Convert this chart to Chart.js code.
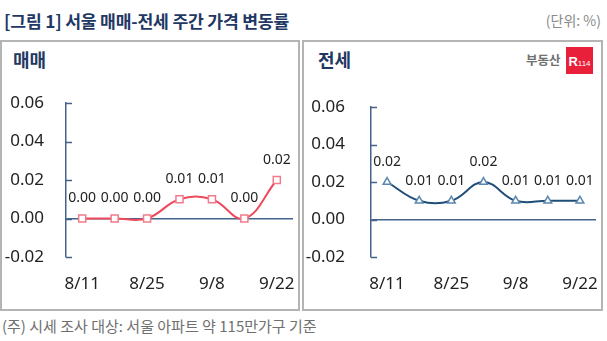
<!DOCTYPE html>
<html>
<head>
<meta charset="utf-8">
<script src="https://cdn.jsdelivr.net/npm/chart.js@4/dist/chart.umd.min.js"></script>
<style>
  html, body { margin: 0; padding: 0; background: #fff; }
  body { width: 607px; height: 341px; position: relative; overflow: hidden; font-family: 'Noto Sans CJK KR', 'Noto Sans', sans-serif; }
  .title { position: absolute; left: 4px; top: 8px; font-size: 17.2px; font-weight: bold; color: #1f3864; white-space: nowrap; letter-spacing: -0.2px; }
  .unit { position: absolute; right: 6px; top: 10px; font-size: 14px; color: #8a8a8a; white-space: nowrap; }
  .panel { position: absolute; top: 40px; height: 271px; border: 2px solid #b4b4b4; box-sizing: border-box; }
  .ptitle { position: absolute; font-size: 18px; font-weight: bold; color: #1f3864; white-space: nowrap; }
  .note { position: absolute; left: 2px; top: 315px; font-size: 15px; color: #707070; white-space: nowrap; }
  .logo-t { position: absolute; left: 526px; top: 50px; font-size: 12.5px; font-weight: bold; color: #707070; white-space: nowrap; }
  .logo-b { position: absolute; left: 566px; top: 47px; width: 27px; height: 27px; background: #e8203a; color: #fff; font-family: 'Liberation Sans', sans-serif; font-weight: bold; line-height: 27px; text-align: center; white-space: nowrap; }
  .logo-b .r { font-size: 13px; }
  .logo-b .n { font-size: 8px; font-weight: normal; }
  canvas { position: absolute; }
</style>
</head>
<body>
<div class="title">[그림 1] 서울 매매-전세 주간 가격 변동률</div>
<div class="unit">(단위: %)</div>
<div class="panel" style="left:0px; width:300px;"></div>
<div class="panel" style="left:302px; width:301px;"></div>
<div class="ptitle" style="left:13px; top:46px;">매매</div>
<div class="ptitle" style="left:318px; top:46px;">전세</div>
<div class="logo-t">부동산</div>
<div class="logo-b"><span class="r">R</span><span class="n">114</span></div>
<canvas id="c1" width="300" height="270" style="left:0px; top:40px;"></canvas>
<canvas id="c2" width="307" height="270" style="left:300px; top:40px;"></canvas>
<div class="note">(주) 시세 조사 대상: 서울 아파트 약 115만가구 기준</div>
<script>
const categories = ['8/11', '8/18', '8/25', '9/1', '9/8', '9/15', '9/22'];
const saleValues = [0.00, 0.00, 0.00, 0.01, 0.01, 0.00, 0.02];
const jeonseValues = [0.02, 0.01, 0.01, 0.02, 0.01, 0.01, 0.01];
const yTicks = [-0.02, 0.00, 0.02, 0.04, 0.06];

Chart.defaults.font.family = "'Noto Sans', sans-serif";
const AXIS = '#44638a';
const TEXT = '#222222';

const labelPlugin = {
  id: 'valueLabels',
  afterDatasetsDraw(chart) {
    const ctx = chart.ctx;
    ctx.save();
    ctx.font = "14px 'Noto Sans', sans-serif";
    ctx.fillStyle = TEXT;
    ctx.textAlign = 'center';
    ctx.textBaseline = 'middle';
    chart.data.datasets.forEach((ds, di) => {
      const meta = chart.getDatasetMeta(di);
      meta.data.forEach((el, i) => {
        ctx.fillText(ds.data[i].toFixed(2), el.x, el.y - 20);
      });
    });
    ctx.restore();
  },
  beforeDatasetsDraw(chart) {
    const ctx = chart.ctx;
    const y = chart.scales.y;
    const left = chart.chartArea.left;
    ctx.save();
    ctx.strokeStyle = AXIS;
    ctx.lineWidth = 1.5;
    yTicks.forEach(v => {
      const py = Math.round(y.getPixelForValue(v)) + 0.5;
      ctx.beginPath();
      ctx.moveTo(left, py);
      ctx.lineTo(left + 6, py);
      ctx.stroke();
    });
    ctx.restore();
  }
};

function makeChart(id, values, color, ptBorder, ptStyle, ptRadius, yWidth, yPad, padTop, padRight) {
  return new Chart(document.getElementById(id), {
    type: 'line',
    data: {
      labels: categories,
      datasets: [{
        data: values,
        borderColor: color,
        borderWidth: 2,
        tension: 0.4,
        pointStyle: ptStyle,
        pointRadius: ptRadius,
        pointBackgroundColor: '#ffffff',
        pointBorderColor: ptBorder,
        pointBorderWidth: 1.5
      }]
    },
    options: {
      responsive: false,
      animation: false,
      devicePixelRatio: 1,
      layout: { padding: { top: padTop, right: padRight, left: 0, bottom: 0 } },
      plugins: { legend: { display: false }, tooltip: { enabled: false } },
      scales: {
        x: {
          offset: true,
          grid: { display: true, drawOnChartArea: false, drawTicks: true, tickLength: 17, color: 'rgba(0,0,0,0)', tickColor: 'rgba(0,0,0,0)' },
          border: { display: false },
          ticks: {
            autoSkip: false, maxRotation: 0, padding: 0,
            color: TEXT, font: { size: 17 },
            callback: (v, i) => (i % 2 === 0 ? categories[i] : '')
          },
          afterFit: s => { s.height = 53; }
        },
        y: {
          min: -0.02, max: 0.06,
          afterBuildTicks: s => { s.ticks = yTicks.map(v => ({ value: v })); },
          grid: {
            drawTicks: false,
            lineWidth: 1.5,
            color: c => (c.tick && Math.abs(c.tick.value) < 1e-9 ? AXIS : 'rgba(0,0,0,0)')
          },
          border: { display: true, color: AXIS, width: 1.5 },
          ticks: {
            padding: yPad,
            color: TEXT, font: { size: 17 },
            callback: v => Number(v).toFixed(2)
          },
          afterFit: s => { s.width = yWidth; }
        }
      }
    },
    plugins: [labelPlugin]
  });
}

makeChart('c1', saleValues, '#ee4a5e', '#f27a8a', 'rect', 5, 66, 22, 63, 7);
makeChart('c2', jeonseValues, '#1f4e79', '#5b87b0', 'triangle', 4.5, 71, 26, 67, 11);
</script>
</body>
</html>
